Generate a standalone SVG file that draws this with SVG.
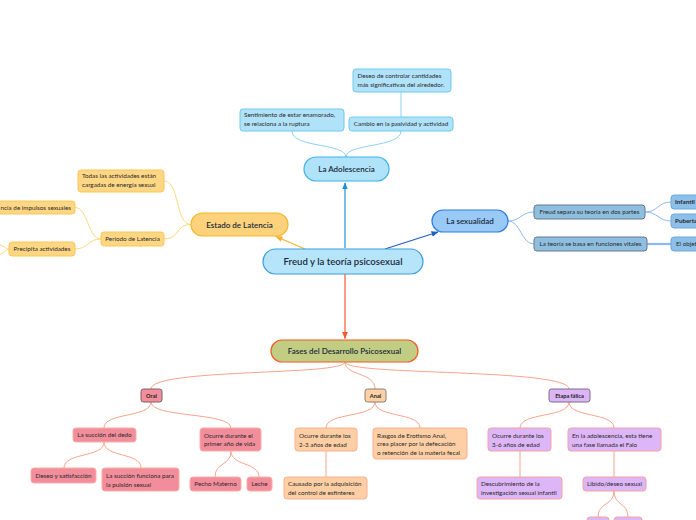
<svg xmlns="http://www.w3.org/2000/svg" width="696" height="520" viewBox="0 0 696 520">
<defs>
<style>
text{font-family:Lato,"Open Sans","Noto Sans",sans-serif;fill:#2a2a2a;font-size:6.3px}
.c{text-anchor:middle}
.big{font-size:9.6px;font-weight:600;fill:#1c2a3a}
.mid{font-size:8px;font-weight:600;fill:#1c2a3a}
.ph{font-size:5.6px;font-weight:700;fill:#222}
.cn{fill:none;stroke-width:1}
.ad{fill:#b0e2f9;stroke:#72c8ef;stroke-width:1}
.la{fill:#ffd784;stroke:#f8c757;stroke-width:1}
.sx{fill:#8fbfe0;stroke:#66788a;stroke-width:1}
.sg{fill:#8cc0ea;stroke:#6fa8dc;stroke-width:1}
.or{fill:#f28e9b;stroke:#f8aca4;stroke-width:1}
.an{fill:#fecfa4;stroke:#f9b08e;stroke-width:1}
.et{fill:#ddb6f7;stroke:#f5a3a0;stroke-width:1}
</style>
<marker id="mBlue" viewBox="0 0 10 10" refX="9" refY="5" markerWidth="6" markerHeight="6" orient="auto"><path d="M0,1 L10,5 L0,9 z" fill="#1e8fd6"/></marker>
<marker id="mDark" viewBox="0 0 10 10" refX="9" refY="5" markerWidth="6" markerHeight="6" orient="auto"><path d="M0,1 L10,5 L0,9 z" fill="#2060c0"/></marker>
<marker id="mOr" viewBox="0 0 10 10" refX="9" refY="5" markerWidth="6" markerHeight="6" orient="auto"><path d="M0,1 L10,5 L0,9 z" fill="#f7b02e"/></marker>
<marker id="mRed" viewBox="0 0 10 10" refX="9" refY="5" markerWidth="6" markerHeight="6" orient="auto"><path d="M0,1 L10,5 L0,9 z" fill="#f55a30"/></marker>
</defs>
<rect width="696" height="520" fill="#ffffff"/>

<g id="connectors">
<path d="M345,248 L345,183" fill="none" stroke="#1e8fd6" stroke-width="1.2" marker-end="url(#mBlue)"/>
<path d="M305,249 L276,236.5" fill="none" stroke="#f7b02e" stroke-width="1.2" marker-end="url(#mOr)"/>
<path d="M385,249 L438,232" fill="none" stroke="#2060c0" stroke-width="1.2" marker-end="url(#mDark)"/>
<path d="M345,274 L345,338.5" fill="none" stroke="#f55a30" stroke-width="1.2" marker-end="url(#mRed)"/>
<g class="cn" stroke="#8ad2f2">
<path d="M346,157 C346,143 292,148 292,131"/>
<path d="M346,157 C346,143 401,148 401,131"/>
<path d="M401,117 L401,92"/>
</g>
<g class="cn" stroke="#fdd882">
<path d="M191,224.5 C175,224.5 180,181 164,181"/>
<path d="M191,224.5 C175,224.5 180,239 164,239"/>
<path d="M101,239 C88,239 88,207.5 75,207.5"/>
<path d="M101,239 C88,239 88,249 75,249"/>
<path d="M9,249 C5,249 4,245 -2,245"/>
<path d="M9,249 C5,249 4,254 -2,255"/>
</g>
<g class="cn" stroke="#8cb9ef">
<path d="M508,221 C521,221 521,212 534,212"/>
<path d="M508,221 C521,221 521,244 534,244"/>
<path d="M645,212 C658,212 658,202 671,202"/>
<path d="M645,212 C658,212 658,221 671,221"/>
<path d="M647,244 L671,244" stroke-width="2.2"/>
</g>
<g class="cn" stroke="#f9a48c">
<path d="M345,362 C345,376 151,368 151,389"/>
<path d="M345,362 C345,376 375,372 375,389"/>
<path d="M345,362 C345,376 569,368 569,389"/>
<path d="M151,402 C151,418 104,412 104,428"/>
<path d="M151,402 C151,418 231,412 231,428"/>
<path d="M104,442 C104,458 64,452 64,468"/>
<path d="M104,442 C104,458 141,452 141,468"/>
<path d="M231,451 C231,466 215,462 215,477"/>
<path d="M231,451 C231,466 259,462 259,477"/>
<path d="M375,402 C375,418 326,412 326,428"/>
<path d="M375,402 C375,418 420,412 420,428"/>
<path d="M326,451 L326,477"/>
<path d="M569,402 C569,418 520,412 520,428"/>
<path d="M569,402 C569,418 614,412 614,428"/>
<path d="M520,451 L520,477"/>
<path d="M614,451 L614,477"/>
<path d="M614,491 C614,506 598,502 598,517"/>
<path d="M614,491 C614,506 628,502 628,517"/>
</g>
</g>

<g id="central">
<rect x="263" y="249" width="160" height="25" rx="12.5" fill="#b6e4fa" stroke="#3a9fdc" stroke-width="1.2"/>
<text class="big c" x="343" y="264.8">Freud y la teoría psicosexual</text>
</g>

<g id="adolescencia">
<rect x="304" y="157" width="85" height="24" rx="12" fill="#b0e2f9" stroke="#3fb3e8" stroke-width="1.2"/>
<text class="mid c" x="346.5" y="171.8">La Adolescencia</text>
</g>
<g id="deseo-controlar">
<rect class="ad" x="353" y="69" width="98" height="23" rx="3"/>
<text x="357.5" y="78">Deseo de controlar cantidades</text>
<text x="357.5" y="86.6">más significativas del alrededor.</text>
</g>
<g id="cambio">
<rect class="ad" x="349" y="117" width="104" height="14" rx="3"/>
<text class="c" x="401" y="126">Cambio en la pasividad y actividad</text>
</g>
<g id="sentimiento">
<rect class="ad" x="240" y="109" width="104" height="22" rx="3"/>
<text x="244" y="116.8">Sentimiento de estar enamorado,</text>
<text x="244" y="125.6">se relaciona a la ruptura</text>
</g>

<g id="latencia">
<rect x="191" y="213" width="97" height="23" rx="11.5" fill="#fdd27a" stroke="#f5b324" stroke-width="1.2"/>
<text class="mid c" x="239.5" y="227.6">Estado de Latencia</text>
</g>
<g id="todas">
<rect class="la" x="78" y="170" width="86" height="22" rx="3"/>
<text x="82" y="178.2">Todas las actividades están</text>
<text x="82" y="187.2">cargadas de energía sexual</text>
</g>
<g id="periodo">
<rect class="la" x="101" y="232" width="63" height="14" rx="3"/>
<text class="c" x="132.5" y="241">Periodo de Latencia</text>
</g>
<g id="impulsos">
<rect class="la" x="-10" y="201" width="85" height="13" rx="3"/>
<text x="71" y="209.6" text-anchor="end">ncia de impulsos sexuales</text>
</g>
<g id="precipita">
<rect class="la" x="9" y="242" width="66" height="14" rx="3"/>
<text class="c" x="42" y="251">Precipita actividades</text>
</g>

<g id="sexualidad">
<rect x="432" y="210" width="76" height="22" rx="11" fill="#99c9f7" stroke="#2d7ee0" stroke-width="1.2"/>
<text class="mid c" x="470" y="224">La sexualidad</text>
</g>
<g id="freud-separa">
<rect class="sx" x="534" y="205" width="111" height="14" rx="3"/>
<text class="c" x="589.5" y="214">Freud separa su teoría en dos partes</text>
</g>
<g id="teoria-basa">
<rect class="sx" x="534" y="237" width="113" height="14" rx="3"/>
<text class="c" x="590.5" y="246">La teoría se basa en funciones vitales</text>
</g>
<g id="infantil">
<rect class="sg" x="671" y="195" width="40" height="14" rx="3"/>
<text x="675" y="204.2" font-weight="700">Infantil</text>
</g>
<g id="pubertad">
<rect class="sg" x="671" y="214" width="40" height="14" rx="3"/>
<text x="675" y="223.2" font-weight="700">Pubertad</text>
</g>
<g id="objeto">
<rect class="sg" x="671" y="237" width="40" height="14" rx="3"/>
<text x="676" y="246.2">El objeto</text>
</g>

<g id="fases">
<rect x="271" y="340" width="147" height="22" rx="11" fill="#c2cd84" stroke="#f25a22" stroke-width="1.2"/>
<text class="mid c" x="344.5" y="354">Fases del Desarrollo Psicosexual</text>
</g>
<g id="oral">
<rect x="141" y="389" width="21" height="13" rx="2.5" fill="#f28e9b" stroke="#7a6066" stroke-width="1"/>
<text class="ph c" x="151.5" y="397.6">Oral</text>
</g>
<g id="anal">
<rect x="365" y="389" width="21" height="13" rx="2.5" fill="#fdd1a5" stroke="#8a7d74" stroke-width="1"/>
<text class="ph c" x="375.5" y="397.6">Anal</text>
</g>
<g id="etapa-falica">
<rect x="549" y="389" width="41" height="13" rx="2.5" fill="#dbb5f6" stroke="#7d6b8a" stroke-width="1"/>
<text class="ph c" x="569.5" y="397.6">Etapa fálica</text>
</g>

<g id="succion">
<rect class="or" x="73" y="428" width="63" height="14" rx="3"/>
<text class="c" x="104.5" y="437">La succión del dedo</text>
</g>
<g id="ocurre-oral">
<rect class="or" x="200" y="428" width="61" height="23" rx="3"/>
<text x="204" y="437.6">Ocurre durante el</text>
<text x="204" y="446.2">primer año de vida</text>
</g>
<g id="deseo-satisfaccion">
<rect class="or" x="31" y="468" width="65" height="15" rx="3"/>
<text class="c" x="63.5" y="477.6">Deseo y satisfacción</text>
</g>
<g id="succion-funciona">
<rect class="or" x="102" y="468" width="77" height="23" rx="3"/>
<text x="106" y="478">La succión funciona para</text>
<text x="106" y="486.5">la pulsión sexual</text>
</g>
<g id="pecho">
<rect class="or" x="190" y="477" width="51" height="14" rx="3"/>
<text class="c" x="215.5" y="486">Pecho Materno</text>
</g>
<g id="leche">
<rect class="or" x="247" y="477" width="25" height="14" rx="3"/>
<text class="c" x="259.5" y="486">Leche</text>
</g>

<g id="ocurre-anal">
<rect class="an" x="295" y="428" width="62" height="23" rx="3"/>
<text x="299" y="438">Ocurre durante los</text>
<text x="299" y="446.5">2-3 años de edad</text>
</g>
<g id="rasgos">
<rect class="an" x="373" y="428" width="94" height="31" rx="3"/>
<text x="377" y="437.7">Rasgos de Erotismo Anal,</text>
<text x="377" y="446.3">crea placer por la defecación</text>
<text x="377" y="454.7">o retención de la materia fecal</text>
</g>
<g id="causado">
<rect class="an" x="284" y="477" width="83" height="22" rx="3"/>
<text x="288" y="486.3">Causado por la adquisición</text>
<text x="288" y="494.7">del control de esfínteres</text>
</g>

<g id="ocurre-falica">
<rect class="et" x="488" y="428" width="63" height="23" rx="3"/>
<text x="492" y="438">Ocurre durante los</text>
<text x="492" y="446.5">3-6 años de edad</text>
</g>
<g id="adolescencia-falo">
<rect class="et" x="568" y="428" width="93" height="23" rx="3"/>
<text x="572" y="438">En la adolescencia,  esta tiene</text>
<text x="572" y="446.5">una fase llamada el Falo</text>
</g>
<g id="descubrimiento">
<rect class="et" x="477" y="477" width="85" height="22" rx="3"/>
<text x="481" y="486.3">Descubrimiento de la</text>
<text x="481" y="494.7">investigación sexual infantil</text>
</g>
<g id="libido">
<rect class="et" x="583" y="477" width="63" height="14" rx="3"/>
<text class="c" x="614.5" y="486">Libido/deseo sexual</text>
</g>
<g id="libido-hijo-1">
<rect class="et" x="587" y="517" width="22" height="10" rx="3"/>
</g>
<g id="libido-hijo-2">
<rect class="et" x="614" y="517" width="28" height="10" rx="3"/>
</g>
</svg>
